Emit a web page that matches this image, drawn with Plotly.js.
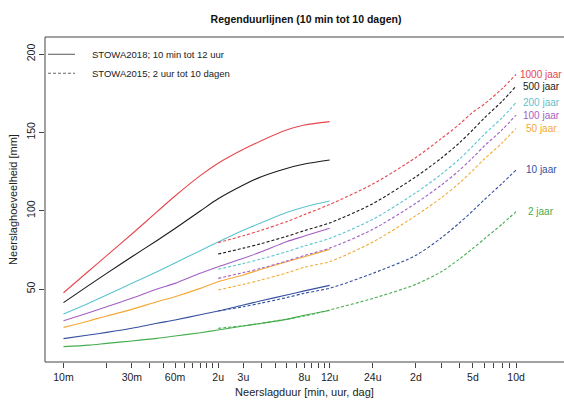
<!DOCTYPE html>
<html>
<head>
<meta charset="utf-8">
<script src="https://cdn.plot.ly/plotly-3.0.1.min.js"></script>
<style>html,body{margin:0;padding:0;background:#fff;}#chart{width:564px;height:401px;}</style>
</head>
<body>
<div id="chart"></div>
<script>
// ---- data (durations in minutes) ----
const durSolid = [10, 15, 20, 30, 45, 60, 90, 120, 180, 240, 360, 480, 720];
const durDashed = [120, 180, 240, 360, 480, 720, 1440, 2880, 4320, 5760, 7200, 8640, 11520, 14400];

const returnPeriods = ['2 jaar', '10 jaar', '50 jaar', '100 jaar', '200 jaar', '500 jaar', '1000 jaar'];

// STOWA2018 (solid), 10 min - 12 uur
const solid2 = [13.2, 14.2, 15.3, 16.8, 18.5, 20.0, 22.1, 23.8, 26.4, 28.1, 30.6, 33.3, 36.3];
const solid10 = [18.3, 20.6, 22.3, 24.9, 28.1, 30.2, 33.6, 36.0, 39.8, 42.5, 46.2, 48.8, 52.3];
const solid50 = [25.5, 29.6, 32.8, 37.0, 41.9, 45.1, 50.4, 54.7, 59.0, 62.6, 67.4, 70.6, 75.3];
const solid100 = [29.8, 34.9, 38.7, 44.1, 50.0, 53.6, 60.0, 64.2, 69.6, 73.8, 80.2, 83.8, 88.8];
const solid200 = [34.0, 40.9, 46.2, 53.6, 61.0, 66.6, 74.5, 80.0, 87.5, 92.3, 98.8, 102.4, 106.2];
const solid500 = [41.3, 52.3, 60.0, 70.6, 81.0, 88.6, 99.8, 107.6, 116.4, 121.7, 127.0, 129.8, 132.4];
const solid1000 = [47.6, 61.5, 71.3, 85.1, 99.4, 109.4, 122.4, 130.3, 139.2, 144.7, 151.5, 154.7, 156.9];

// STOWA2015 (dashed), 2 uur - 10 dagen
const dashed2 = [24.9, 26.5, 28.0, 30.8, 32.8, 36.6, 44.0, 53.0, 61.0, 69.0, 76.0, 82.0, 91.5, 99.4];
const dashed10 = [36.0, 38.7, 41.0, 44.5, 47.3, 50.5, 60.0, 71.5, 82.6, 92.0, 100.0, 107.0, 117.5, 126.0];
const dashed50 = [49.4, 53.0, 55.8, 60.2, 63.9, 67.5, 80.0, 96.9, 108.2, 117.5, 125.8, 133.0, 143.3, 152.6];
const dashed100 = [56.8, 60.5, 63.3, 67.8, 71.4, 76.1, 88.1, 104.8, 116.3, 125.6, 134.0, 141.3, 151.7, 161.1];
const dashed200 = [62.6, 66.3, 69.2, 73.8, 77.5, 82.3, 94.5, 111.5, 123.2, 132.8, 141.3, 148.8, 159.4, 169.0];
const dashed500 = [72.3, 76.1, 79.0, 83.6, 87.3, 92.2, 104.5, 121.7, 133.5, 143.1, 151.7, 159.2, 169.9, 179.6];
const dashed1000 = [79.6, 84.0, 87.5, 93.0, 97.5, 104.0, 117.0, 134.0, 146.0, 155.0, 163.0, 168.0, 178.0, 187.0];

const solidSeries = [solid2, solid10, solid50, solid100, solid200, solid500, solid1000];
const dashedSeries = [dashed2, dashed10, dashed50, dashed100, dashed200, dashed500, dashed1000];

const xTickVals = [10, 20, 30, 40, 50, 60, 70, 80, 90, 100, 110, 120, 180, 240, 300, 360, 420, 480, 540, 600, 660, 720, 1440, 2880, 4320, 5760, 7200, 8640, 10080, 11520, 12960, 14400];
const xTickText = ['10m', '', '30m', '', '', '60m', '', '', '', '', '', '2u', '3u', '', '', '', '', '8u', '', '', '', '12u', '24u', '2d', '', '', '5d', '', '', '', '', '10d'];
const yTickVals = [50, 100, 150, 200];

const legendLabels = ['STOWA2018; 10 min tot 12 uur', 'STOWA2015; 2 uur tot 10 dagen'];
const titleText = 'Regenduurlijnen (10 min tot 10 dagen)';
const xTitle = 'Neerslagduur [min, uur, dag]';
const yTitle = 'Neerslaghoeveelheid [mm]';

// ---- styles ----
const colors = ['#45ad4e', '#34509f', '#f3a934', '#a45fc4', '#5cc3cf', '#1a1a1a', '#e6474d'];
const FONT = 'Liberation Sans, Arial, Helvetica, sans-serif';
const labelX = 21600; // position of the return-period labels (minutes)

const traces = [];
solidSeries.forEach((s, i) => {
  traces.push({
    x: durSolid, y: s, type: 'scatter', mode: 'lines', name: returnPeriods[i] + ' (2018)',
    line: {color: colors[i], width: 1.1, shape: 'spline', smoothing: 0.8}, showlegend: false, hoverinfo: 'skip'
  });
});
dashedSeries.forEach((s, i) => {
  traces.push({
    x: durDashed, y: s, type: 'scatter', mode: 'lines', name: returnPeriods[i] + ' (2015)',
    line: {color: colors[i], width: 1.1, dash: '3px,2px', shape: 'spline', smoothing: 0.8}, showlegend: false, hoverinfo: 'skip'
  });
});

const L = 45, T = 37, B = 39, W = 564, H = 401;
const pw = W - L, ph = H - T - B;
const px2x = p => (p - L) / pw;
const px2y = p => (H - B - p) / ph;

const annotations = returnPeriods.map((lab, i) => ({
  x: Math.log10(labelX), y: dashedSeries[i][dashedSeries[i].length - 1],
  xref: 'x', yref: 'y', text: lab, showarrow: false, xanchor: 'center', yanchor: 'middle',
  font: {family: FONT, size: 10, color: colors[i]}
}));
annotations.push({
  x: px2x(90), y: px2y(54.3), xref: 'paper', yref: 'paper', text: legendLabels[0], showarrow: false,
  xanchor: 'left', yanchor: 'middle', font: {family: FONT, size: 9.5, color: '#222'}
});
annotations.push({
  x: px2x(90), y: px2y(73.3), xref: 'paper', yref: 'paper', text: legendLabels[1], showarrow: false,
  xanchor: 'left', yanchor: 'middle', font: {family: FONT, size: 9.5, color: '#222'}
});

const shapes = [
  {type: 'rect', xref: 'paper', yref: 'paper', x0: 0, x1: 1.08, y0: 0, y1: 1, line: {color: '#444', width: 1}, layer: 'above'},
  {type: 'line', xref: 'paper', yref: 'paper', x0: px2x(48), x1: px2x(75), y0: px2y(54.3), y1: px2y(54.3), line: {color: '#666', width: 1.1}},
  {type: 'line', xref: 'paper', yref: 'paper', x0: px2x(48), x1: px2x(75), y0: px2y(73.3), y1: px2y(73.3), line: {color: '#666', width: 1.1, dash: '3px,2px'}}
];

const layout = {
  width: W, height: H,
  margin: {l: L, r: 0, t: T, b: B, pad: 0},
  paper_bgcolor: '#fff', plot_bgcolor: '#fff',
  font: {family: FONT, color: '#222'},
  showlegend: false,
  title: {text: '<b>' + titleText + '</b>', font: {family: FONT, size: 10.5, color: '#111'},
          xref: 'container', x: 306 / W, xanchor: 'center', yref: 'container', y: 1 - 19.5 / H, yanchor: 'middle'},
  xaxis: {
    type: 'log', range: [0.8709, 4.4927], tickmode: 'array', tickvals: xTickVals, ticktext: xTickText,
    ticks: 'outside', ticklen: 5, tickwidth: 1, tickcolor: '#444', tickfont: {family: FONT, size: 10.5, color: '#222'},
    showgrid: false, zeroline: false, showline: false, automargin: false,
    title: {text: xTitle, font: {family: FONT, size: 11, color: '#222'}, standoff: 6}
  },
  yaxis: {
    range: [3.4, 210.9], tickmode: 'array', tickvals: yTickVals, tickangle: -90,
    ticks: 'outside', ticklen: 5, tickwidth: 1, tickcolor: '#444', tickfont: {family: FONT, size: 10.5, color: '#222'},
    showgrid: false, zeroline: false, showline: false, automargin: false,
    title: {text: yTitle, font: {family: FONT, size: 11, color: '#222'}, standoff: 4}
  },
  shapes: shapes,
  annotations: annotations
};

Plotly.newPlot('chart', traces, layout, {displayModeBar: false, staticPlot: true});
</script>
</body>
</html>
